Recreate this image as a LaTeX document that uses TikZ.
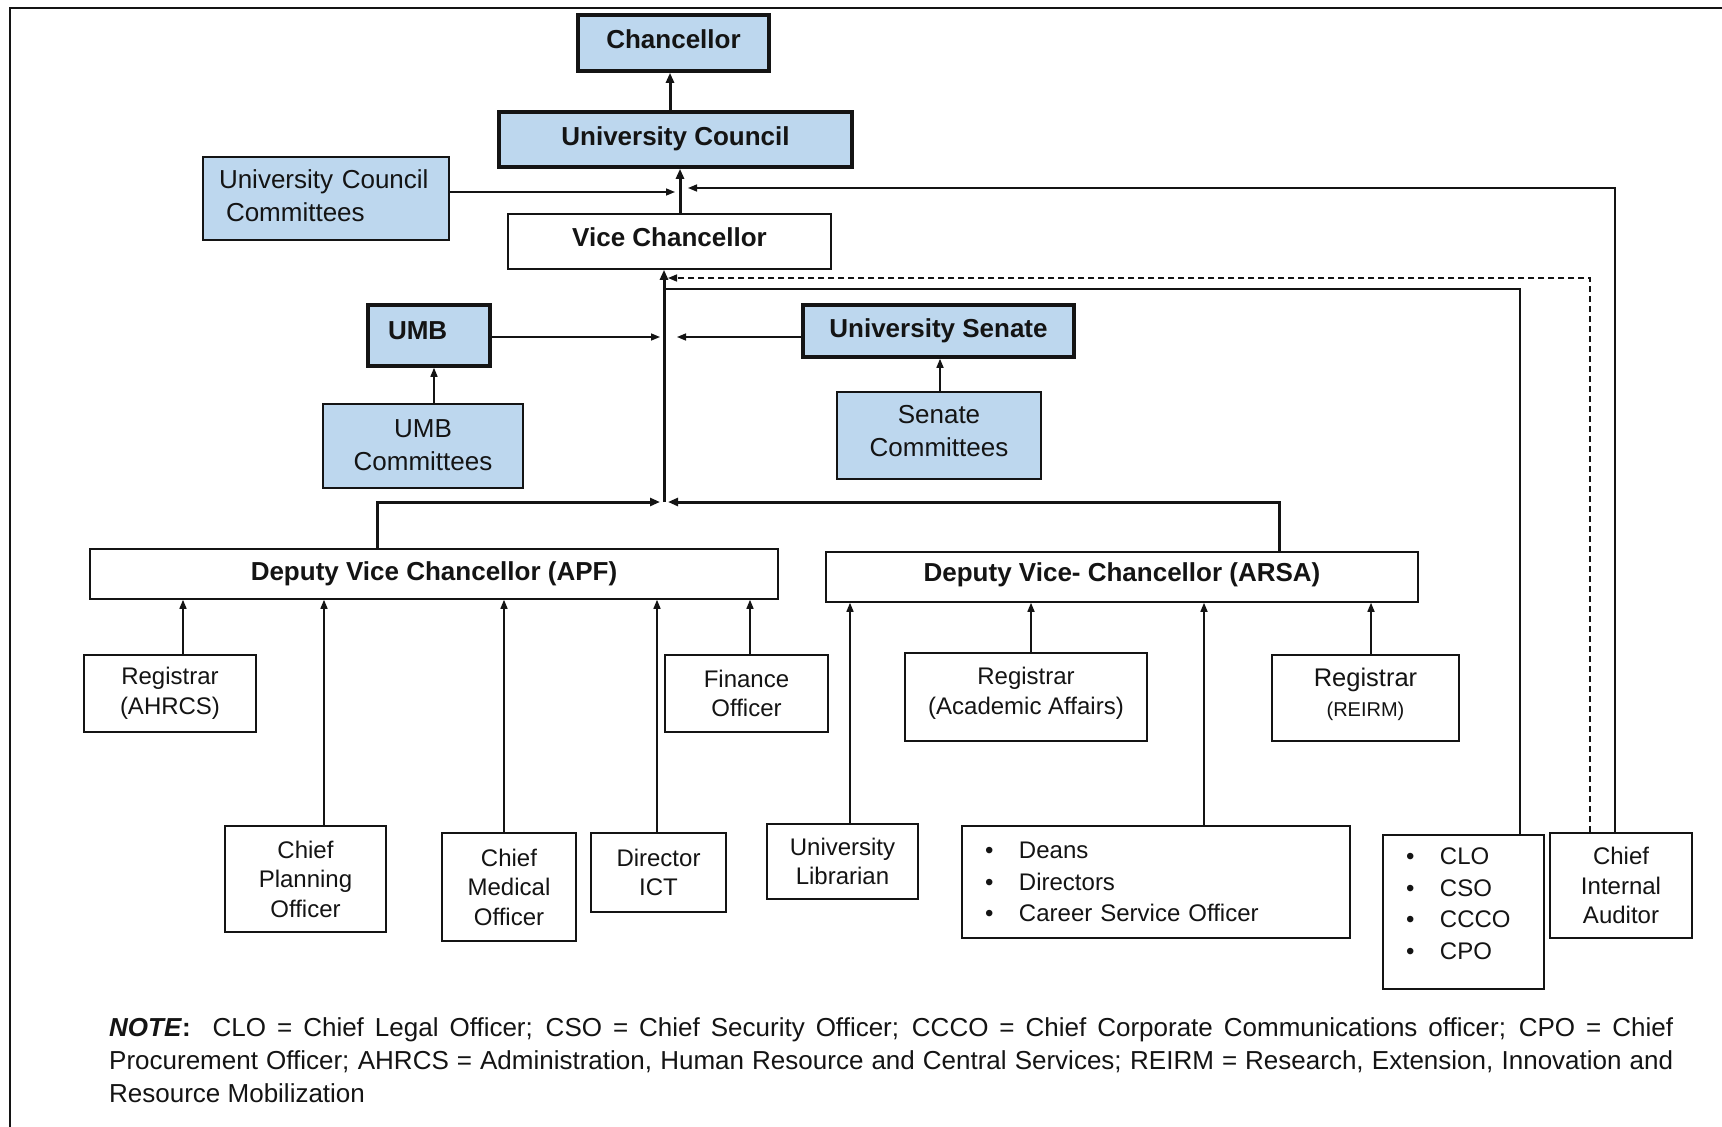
\documentclass[tikz,border=0pt]{standalone}
\usepackage{fontspec}
\setmainfont{Liberation Sans}
\usetikzlibrary{arrows.meta}
\definecolor{lblue}{RGB}{189,215,238}
\definecolor{ink}{RGB}{20,20,20}
\newcommand\szB{\fontsize{26pt}{32pt}\selectfont\bfseries}
\newcommand\szR{\fontsize{24pt}{29.5pt}\selectfont}
\newcommand\szC{\fontsize{26pt}{33pt}\selectfont}
\newcommand\szS{\fontsize{20pt}{24pt}\selectfont}
\newcommand\szL{\fontsize{24pt}{31.5pt}\selectfont}
\newcommand\szN{\fontsize{26pt}{33pt}\selectfont}
\newcommand\bul{\makebox[34pt][l]{\textbullet}}
\tikzset{
  box/.style={draw=ink, line width=1.6pt, rectangle, inner sep=0pt, align=center, font=\szR, text=ink},
  bluebox/.style={box, fill=lblue},
  thickbox/.style={bluebox, line width=3.6pt, font=\szB},
  whitebold/.style={box, font=\szB},
  arr/.style={draw=ink, line width=1.5pt, -{Triangle[length=9pt,width=7pt]}},
  tarr/.style={draw=ink, line width=3pt, -{Triangle[length=10pt,width=8pt]}},
  plain/.style={draw=ink, line width=1.5pt},
  dsh/.style={arr, dash pattern=on 6pt off 4pt}
}
\begin{document}
\begin{tikzpicture}[x=1pt,y=-1pt]
\useasboundingbox (0,0) rectangle (1722,1127);
\fill[white] (0,0) rectangle (1722,1127);
\draw[line width=2pt, ink] (10,1127) -- (10,8) -- (1722,8);

% top
\node[thickbox, minimum width=191pt, minimum height=56pt, text depth=8pt] (chan) at (673.5,43) {Chancellor};
\node[thickbox, minimum width=353pt, minimum height=55pt, text depth=6pt] (uc) at (675.5,139.5) {University Council};
\node[whitebold, minimum width=323pt, minimum height=55pt, text depth=8pt] (vc) at (669.5,241.5) {Vice Chancellor};
\node[bluebox, font=\szC, minimum width=246pt, minimum height=83pt, inner xsep=16pt, text width=214pt, align=left, text depth=39pt] (ucc) at (326,198.5) {University Council\\\hspace*{7pt}Committees};

\node[thickbox, minimum width=122pt, minimum height=61pt, inner xsep=20pt, text width=82pt, align=left, text depth=10pt] (umb) at (429,335.5) {UMB};
\node[bluebox, font=\szC, minimum width=200pt, minimum height=84pt, text depth=2pt] (umbc) at (423,446) {UMB\\Committees};
\node[thickbox, minimum width=271pt, minimum height=52pt, text depth=6pt] (us) at (938.5,331) {University Senate};
\node[bluebox, font=\szC, minimum width=204pt, minimum height=87pt, text depth=9pt] (sc) at (939,435.5) {Senate\\Committees};

% deputies
\node[whitebold, minimum width=688pt, minimum height=50pt] (apf) at (434,574) {Deputy Vice Chancellor (APF)};
\node[whitebold, minimum width=592pt, minimum height=50pt, text depth=10pt] (arsa) at (1122,577) {Deputy Vice- Chancellor (ARSA)};

% APF subordinates
\node[box, minimum width=172pt, minimum height=77pt] (rahrcs) at (170,693.5) {Registrar\\(AHRCS)};
\node[box, minimum width=161pt, minimum height=106pt] (cpo) at (305.5,879) {Chief\\Planning\\Officer};
\node[box, minimum width=134pt, minimum height=108pt] (cmo) at (509,887) {Chief\\Medical\\Officer};
\node[box, minimum width=135pt, minimum height=79pt] (dict) at (658.5,872.5) {Director\\ICT};
\node[box, minimum width=163pt, minimum height=77pt] (fin) at (746.5,693.5) {Finance\\Officer};

% ARSA subordinates
\node[box, minimum width=151pt, minimum height=75pt] (lib) at (842.5,861.5) {University\\Librarian};
\node[box, minimum width=242pt, minimum height=88pt, text depth=12pt] (raa) at (1026,697) {Registrar\\(Academic Affairs)};
\node[box, minimum width=187pt, minimum height=86pt, font=\fontsize{25.5pt}{30pt}\selectfont, text depth=12pt] (rreirm) at (1365.5,698) {Registrar\\{\szS (REIRM)}};
\node[box, font=\szL, minimum width=388pt, minimum height=112pt, inner xsep=23pt, text width=342pt, align=left] (deans) at (1156,882) {\bul Deans\\\bul Directors\\\bul Career Service Officer};

% right column
\node[box, font=\szL, minimum width=161pt, minimum height=154pt, inner xsep=23pt, text width=115pt, align=left, text depth=111.5pt] (clo) at (1463.5,912) {\bul CLO\\\bul CSO\\\bul CCCO\\\bul CPO};
\node[box, minimum width=142pt, minimum height=105pt] (cia) at (1621,885.5) {Chief\\Internal\\Auditor};

% junction coordinates
\coordinate (jUC) at (680,192);
\coordinate (jCh) at (670,100);
\coordinate (jCIA) at (688,188);
\coordinate (jD) at (668,278);
\coordinate (jS) at (664,289);
\coordinate (jM) at (664,502);
\coordinate (jL) at (660,337);
\coordinate (jR) at (677,337);
\coordinate (jBL) at (660,502);
\coordinate (jBR) at (668,502);

% upper connectors
\draw[tarr] (uc.north -| jCh) -- (chan.south -| jCh);
\draw[tarr] (vc.north -| jUC) -- (uc.south -| jUC);
\draw[arr] (ucc.east |- jUC) -- ([xshift=-5pt]jUC);
\draw[arr] (cia.north -| 1615,0) |- (jCIA);
\draw[dsh] (cia.north -| 1590,0) |- (jD);
\draw[plain] (clo.north -| 1520,0) |- (jS);
\draw[tarr] (jM) -- (vc.south -| jM);
\draw[arr] (umb.east |- jL) -- (jL);
\draw[arr] (us.west |- jR) -- (jR);
\draw[arr] (umbc.north -| 434,0) -- (umb.south -| 434,0);
\draw[arr] (sc.north -| 940,0) -- (us.south -| 940,0);
\draw[tarr] (apf.north -| 377,0) |- (jBL);
\draw[tarr] (arsa.north -| 1279,0) |- (jBR);

% lower connectors
\draw[arr] (rahrcs.north -| 183,0) -- (apf.south -| 183,0);
\draw[arr] (cpo.north -| 324,0) -- (apf.south -| 324,0);
\draw[arr] (cmo.north -| 504,0) -- (apf.south -| 504,0);
\draw[arr] (dict.north -| 657,0) -- (apf.south -| 657,0);
\draw[arr] (fin.north -| 750,0) -- (apf.south -| 750,0);
\draw[arr] (lib.north -| 850,0) -- (arsa.south -| 850,0);
\draw[arr] (raa.north -| 1031,0) -- (arsa.south -| 1031,0);
\draw[arr] (deans.north -| 1204,0) -- (arsa.south -| 1204,0);
\draw[arr] (rreirm.north -| 1371,0) -- (arsa.south -| 1371,0);

% note
\node[anchor=north west, inner sep=0pt, align=left, font=\szN, text=ink] (note) at (109,1017.5) {%
\makebox[1564pt][s]{\textbf{\textit{NOTE}:} \ CLO = Chief Legal Officer; CSO = Chief Security Officer; CCCO = Chief Corporate Communications officer; CPO = Chief}\\
\makebox[1564pt][s]{Procurement Officer; AHRCS = Administration, Human Resource and Central Services; REIRM = Research, Extension, Innovation and}\\
Resource Mobilization};
\end{tikzpicture}
\end{document}
